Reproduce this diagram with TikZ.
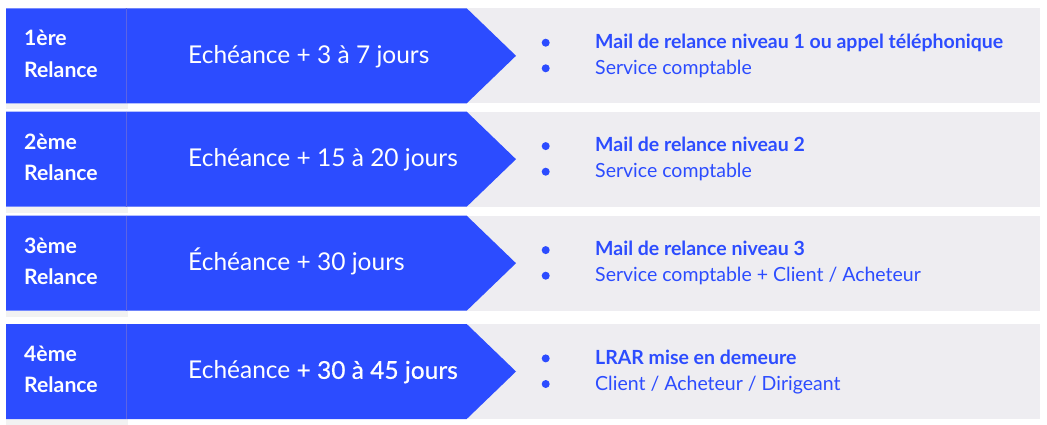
\documentclass[tikz,border=0pt]{standalone}
\usepackage{fontspec}
\setmainfont{Lato}
\newfontfamily\semibold[FakeBold=0.6]{Lato}
\definecolor{relblue}{RGB}{44,76,255}
\definecolor{relgrey}{RGB}{238,237,241}
\definecolor{relline}{RGB}{92,100,228}

\tikzset{
  rank/.style={anchor=base west, inner sep=0pt, text=white, font=\bfseries\fontsize{21.2}{24}\selectfont},
  delay/.style={anchor=base west, inner sep=0pt, text=white, font=\fontsize{24.5}{28}\selectfont},
  action/.style={anchor=base west, inner sep=0pt, text=relblue, font=\bfseries\fontsize{19.5}{22}\selectfont},
  contact/.style={anchor=base west, inner sep=0pt, text=relblue, font=\fontsize{19.5}{22}\selectfont},
  bullet/.style={circle, fill=relblue, inner sep=0pt, minimum size=8pt}
}

\begin{document}
\begin{tikzpicture}[x=1pt, y=-1pt]
\useasboundingbox (0,0) rectangle (1047,425);

% 1ere relance
\fill[relgrey] (125,8.3) rectangle (1040,103.3);
\fill[black, opacity=.05] (6,103.3) rectangle (128,109);
\fill[relblue] (6,8.3) -- (466.7,8.3) -- (516,55.8) -- (466.7,103.3) -- (6,103.3) -- cycle;
\draw[relline, thin] (125.7,8.3) -- (125.7,103.3);
\node[rank] (rank1) at (24,46) {1ère};
\node[rank] (rel1) at (24,77.3) {Relance};
\node[delay] (delay1) at (188,63.3) {Echéance + 3 à 7 jours};
\node[bullet] (dot1a) at (545.7,42.7) {};
\node[bullet] (dot1b) at (545.7,68.3) {};
\node[action] (act1) at (595,48.3) {Mail de relance niveau 1 ou appel téléphonique};
\node[contact] (who1) at (595,74.3) {Service comptable};

% 2eme relance
\fill[relgrey] (125,111.7) rectangle (1040,206.7);
\fill[black, opacity=.05] (6,206.7) rectangle (128,212.5);
\fill[relblue] (6,111.7) -- (466.7,111.7) -- (516,159.2) -- (466.7,206.7) -- (6,206.7) -- cycle;
\draw[relline, thin] (125.7,111.7) -- (125.7,206.7);
\node[rank] (rank2) at (24,149.4) {2ème};
\node[rank] (rel2) at (24,180.7) {Relance};
\node[delay] (delay2) at (188,166.7) {Echéance + 15 à 20 jours};
\node[bullet] (dot2a) at (545.7,146.1) {};
\node[bullet] (dot2b) at (545.7,171.7) {};
\node[action] (act2) at (595,151.7) {Mail de relance niveau 2};
\node[contact] (who2) at (595,177.7) {Service comptable};

% 3eme relance
\fill[relgrey] (125,215.7) rectangle (1040,310.7);
\fill[black, opacity=.05] (6,310.7) rectangle (128,316.5);
\fill[relblue] (6,215.7) -- (466.7,215.7) -- (516,263.2) -- (466.7,310.7) -- (6,310.7) -- cycle;
\draw[relline, thin] (125.7,215.7) -- (125.7,310.7);
\node[rank] (rank3) at (24,253.3) {3ème};
\node[rank] (rel3) at (24,284.3) {Relance};
\node[delay] (delay3) at (188,270.7) {Échéance + 30 jours};
\node[bullet] (dot3a) at (545.7,250.1) {};
\node[bullet] (dot3b) at (545.7,275.7) {};
\node[action] (act3) at (595,255.7) {Mail de relance niveau 3};
\node[contact] (who3) at (595,281.7) {Service comptable + Client / Acheteur};

% 4eme relance
\fill[relgrey] (125,324) rectangle (1040,419);
\fill[black, opacity=.05] (6,419) rectangle (128,425);
\fill[relblue] (6,324) -- (466.7,324) -- (516,371.5) -- (466.7,419) -- (6,419) -- cycle;
\draw[relline, thin] (125.7,324) -- (125.7,419);
\node[rank] (rank4) at (24,361.7) {4ème};
\node[rank] (rel4) at (24,392.8) {Relance};
\node[delay] (delay4) at (188,378.8) {Echéance {\semibold + 30 à 45 jours}};
\node[bullet] (dot4a) at (545.7,358.4) {};
\node[bullet] (dot4b) at (545.7,384) {};
\node[action] (act4) at (595,364) {LRAR mise en demeure};
\node[contact] (who4) at (595,390) {Client / Acheteur / Dirigeant};

\end{tikzpicture}
\end{document}
